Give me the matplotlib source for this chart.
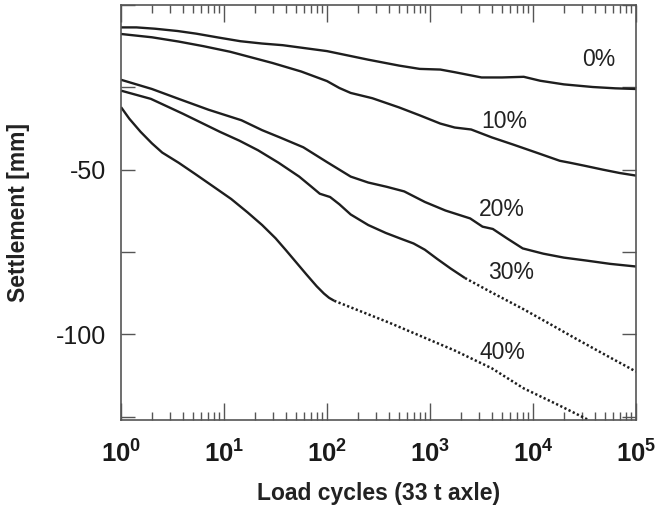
import numpy as np
import matplotlib
matplotlib.use("Agg")
import matplotlib.pyplot as plt
from matplotlib.ticker import FixedLocator, NullFormatter, FixedFormatter

plt.rcParams['font.family'] = ['Liberation Sans', 'DejaVu Sans']
plt.rcParams['mathtext.fontset'] = 'custom'
plt.rcParams['mathtext.bf'] = 'Liberation Sans:bold'
plt.rcParams['mathtext.rm'] = 'Liberation Sans'

# log10(load cycles) and settlement [mm]
x0 = [0, 0.15, 0.33, 0.55, 0.73, 0.95, 1.16, 1.37, 1.57, 2.0, 2.40, 2.70, 2.90, 3.10, 3.24, 3.50, 3.70, 3.91, 4.07, 4.30, 4.58, 4.80, 5.0]
y0 = [-6.8, -6.8, -7.2, -7.9, -8.7, -9.9, -11.0, -11.7, -12.2, -14.0, -16.6, -18.4, -19.4, -19.6, -20.4, -22.0, -22.0, -21.8, -23.0, -24.1, -24.9, -25.3, -25.5]

x10 = [0, 0.30, 0.56, 0.80, 1.06, 1.47, 1.75, 2.0, 2.12, 2.23, 2.44, 2.70, 2.90, 3.10, 3.24, 3.40, 3.60, 3.81, 4.05, 4.26, 4.36, 4.50, 4.68, 4.84, 5.0]
y10 = [-8.8, -9.8, -11.1, -12.5, -14.2, -17.6, -20.2, -23.1, -25.2, -26.7, -28.3, -31.1, -33.5, -36.0, -37.2, -37.8, -40.2, -42.4, -45.0, -47.3, -47.9, -48.8, -50.0, -51.0, -51.8]

x20 = [0, 0.30, 0.56, 0.85, 1.17, 1.37, 1.55, 1.77, 2.0, 2.23, 2.40, 2.58, 2.75, 2.95, 3.15, 3.39, 3.51, 3.61, 3.75, 3.90, 4.10, 4.30, 4.52, 4.75, 5.0]
y20 = [-22.7, -25.5, -28.5, -31.8, -35.0, -38.0, -40.3, -43.2, -47.7, -52.1, -53.9, -55.2, -56.6, -59.8, -62.4, -64.8, -67.3, -68.0, -70.9, -73.9, -75.5, -76.7, -77.6, -78.6, -79.4]

x30 = [0, 0.29, 0.60, 0.96, 1.15, 1.33, 1.53, 1.73, 1.85, 1.93, 2.03, 2.12, 2.23, 2.40, 2.57, 2.72, 2.84, 2.95, 3.07, 3.20, 3.34]
y30 = [-26.0, -28.5, -33.0, -38.5, -41.2, -44.1, -47.9, -52.1, -55.2, -57.3, -58.3, -60.5, -63.6, -66.8, -69.2, -71.0, -72.4, -74.3, -77.1, -80.0, -82.9]
x30d = [3.34, 3.60, 3.91, 4.15, 4.41, 4.70, 5.0]
y30d = [-82.9, -87.3, -92.4, -96.6, -101.2, -106.2, -111.3]

x40 = [0, 0.08, 0.19, 0.30, 0.40, 0.56, 0.72, 0.90, 1.07, 1.23, 1.37, 1.50, 1.60, 1.70, 1.80, 1.90, 1.97, 2.02, 2.07]
y40 = [-31.0, -34.5, -38.5, -42.0, -44.8, -47.9, -51.3, -55.2, -58.9, -63.0, -66.8, -70.8, -74.4, -78.1, -81.8, -85.4, -87.6, -88.9, -89.8]
x40d = [2.07, 2.60, 3.24, 3.60, 3.91, 4.25, 4.54]
y40d = [-89.8, -96.4, -104.9, -110.3, -116.4, -121.5, -126.0]

labels = ['0%', '10%', '20%', '30%', '40%']
label_pos = [(4.64, -16.4), (3.72, -35.5), (3.70, -62.1), (3.79, -81.2), (3.70, -105.5)]

ytick_vals = [0, -25, -50, -75, -100, -125]
ytick_labels = ['', '', '-50', '', '-100', '']
xtick_exps = [0, 1, 2, 3, 4, 5]

fig = plt.figure(figsize=(6.55, 5.13), dpi=100)
ax = fig.add_axes([121/655, 93/513, 515/655, 415/513])

lc = '#1e1e1e'
lw = 1.7
for xs, ys in [(x0, y0), (x10, y10), (x20, y20), (x30, y30), (x40, y40)]:
    ax.plot(10**np.array(xs), ys, color=lc, lw=lw, solid_capstyle='butt', solid_joinstyle='round')
for xs, ys in [(x30d, y30d), (x40d, y40d)]:
    ax.plot(10**np.array(xs), ys, color=lc, lw=1.8, linestyle=(0, (0.9, 0.95)))

for t, (lx, ly) in zip(labels, label_pos):
    ax.text(10**lx, ly, t, ha='center', va='center', fontsize=16.5, color='#222222')

ax.set_xscale('log')
ax.set_xlim(1, 1e5)
ax.set_ylim(-126, 0)

ax.xaxis.set_major_locator(FixedLocator([10.0**e for e in xtick_exps]))
ax.xaxis.set_major_formatter(FixedFormatter([r'$\mathbf{10^{%d}}$' % e for e in xtick_exps]))
minors = [m * 10.0**e for e in range(5) for m in range(2, 10)]
ax.xaxis.set_minor_locator(FixedLocator(minors))
ax.xaxis.set_minor_formatter(NullFormatter())

ax.yaxis.set_major_locator(FixedLocator(ytick_vals))
ax.yaxis.set_major_formatter(FixedFormatter(ytick_labels))

sc = '#555555'
ax.tick_params(axis='x', which='major', direction='in', length=12, width=1, color=sc,
               top=True, bottom=True, labelsize=18.5, pad=15, labelcolor='#1a1a1a')
ax.tick_params(axis='x', which='minor', direction='in', length=6, width=1, color=sc,
               top=True, bottom=True)
ax.tick_params(axis='y', which='major', direction='in', length=10, width=1, color=sc,
               left=True, right=True, labelsize=18, pad=11, labelcolor='#1a1a1a')
for s in ax.spines.values():
    s.set_color(sc)
    s.set_linewidth(1.2)

ax.set_xlabel('Load cycles (33 t axle)', fontsize=16.5, fontweight='bold', labelpad=10, color='#222222')
ax.set_ylabel('Settlement [mm]', fontsize=16.5, fontweight='bold', labelpad=18, color='#222222')

fig.savefig('out.png', dpi=100)
